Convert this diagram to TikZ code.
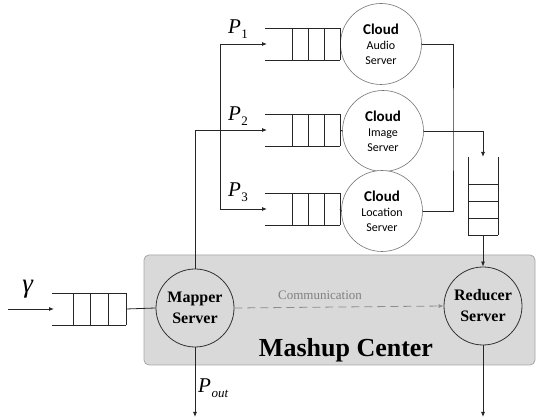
\documentclass[tikz,border=0pt]{standalone}
\usepackage{fontspec}
\setmainfont{Liberation Serif}
\newfontfamily\cfont{Carlito}
\usetikzlibrary{arrows.meta}
\newcommand{\Psub}[1]{\textit{P}\kern0.5pt\raisebox{-5pt}{\fontsize{13}{13}\selectfont #1}}
\tikzset{
  ln/.style={draw=black!85, line width=0.8pt},
  arr/.style={ln, -{Latex[length=5pt,width=4pt]}},
  cloudsrv/.style={circle, draw=black!55, line width=0.6pt, fill=white, minimum size=81pt, inner sep=0pt, align=center, font=\cfont\fontsize{12}{15}\selectfont},
  srv/.style={circle, draw=black!80, line width=0.8pt, minimum size=78pt, inner sep=0pt, align=center, font=\fontsize{16}{21}\selectfont\bfseries},
  mashup/.style={draw=black!35, fill=black!15, rounded corners=5pt, line width=0.8pt, minimum width=391pt, minimum height=110pt, inner sep=0pt},
  lbl/.style={inner sep=0pt, font=\fontsize{21}{21}\selectfont},
  pics/hq/.style n args={2}{code={
    \draw[ln] (0,-16) -- ++(#1+3*#2,0) (0,16) -- ++(#1+3*#2,0);
    \foreach \i in {0,1,2,3} \draw[ln] (#1+\i*#2,-16) -- ++(0,32);
    \coordinate (-w) at (2,0);
    \coordinate (-e) at (#1+3*#2,0);
  }},
  pics/vq/.style={code={
    \draw[ln] (-15,0) -- (-15,78) (15,0) -- (15,78);
    \foreach \y in {27,44,61,78} \draw[ln] (-15,\y) -- (15,\y);
    \coordinate (-n) at (0,0);
    \coordinate (-s) at (0,78);
  }}
}
\begin{document}
\begin{tikzpicture}[x=1pt,y=-1pt]
\useasboundingbox (0,0) rectangle (536,419);
% Mashup center box
\node[mashup] (box) at (339.5,310) {};
\node[inner sep=0pt, anchor=base, font=\fontsize{26}{26}\selectfont\bfseries] (mclbl) at (346,357) {Mashup Center};
% servers
\node[srv] (mapper) at (195,308) {Mapper\\Server};
\node[srv] (reducer) at (483,306) {Reducer\\Server};
\node[cloudsrv] (audio) at (381,44) {{\fontsize{15}{17}\selectfont\bfseries Cloud}\\Audio\\Server};
\node[cloudsrv] (image) at (383,131) {{\fontsize{15}{17}\selectfont\bfseries Cloud}\\Image\\Server};
\node[cloudsrv] (loc) at (382,211) {{\fontsize{15}{17}\selectfont\bfseries Cloud}\\Location\\Server};
% queues
\pic (q0) at (52,309) {hq={21}{17.7}};
\pic (q1) at (265,44) {hq={27}{16}};
\pic (q2) at (265,130) {hq={27}{16}};
\pic (q3) at (265,209) {hq={27}{16}};
\pic (vq) at (483,157) {vq};
% input
\coordinate (in) at (8,309);
\draw[arr] (in) -- (q0-w);
\node[inner sep=0pt, font=\fontsize{27}{27}\selectfont] (gam) at (28,289) {\textit{γ}};
\draw[ln] (q0-e) -- (mapper.west);
% mapper to cloud queues
\draw[arr] (mapper.north) |- (q2-w);
\coordinate (br) at (220,130);
\draw[arr] (br) |- (q1-w);
\draw[arr] (br) |- (q3-w);
\node[lbl] (p1) at (238,29) {\Psub{1}};
\node[lbl] (p2) at (238,116) {\Psub{2}};
\node[lbl] (p3) at (238,192) {\Psub{3}};
% queues to clouds
\draw[ln] (q1-e) -- (audio.west);
\draw[ln] (q2-e) -- (image.west);
\draw[ln] (q3-e) -- (loc.west);
% cloud outputs
\coordinate (jn) at (453,131);
\draw[ln] (audio.east) -| (jn) |- (loc.east);
\draw[arr] (image.east) -| (vq-n);
\draw[arr] (vq-s) -- (reducer.north);
% communication
\draw[draw=black!45, line width=0.8pt, dash pattern=on 8pt off 5pt, -{Latex[length=5pt,width=4pt]}] (mapper.east) -- (reducer.west);
\node[inner sep=0pt, text=black!50, font=\fontsize{13}{13}\selectfont] (comm) at (320,295) {Communication};
% outputs
\coordinate (mout) at (195,417);
\coordinate (rout) at (483,417);
\draw[arr] (mapper.south) -- (mout);
\draw[arr] (reducer.south) -- (rout);
\node[lbl, anchor=west] (pout) at (198,388) {\textit{P}\kern0.5pt\raisebox{-5pt}{\fontsize{13}{13}\selectfont\itshape out}};
\end{tikzpicture}
\end{document}
